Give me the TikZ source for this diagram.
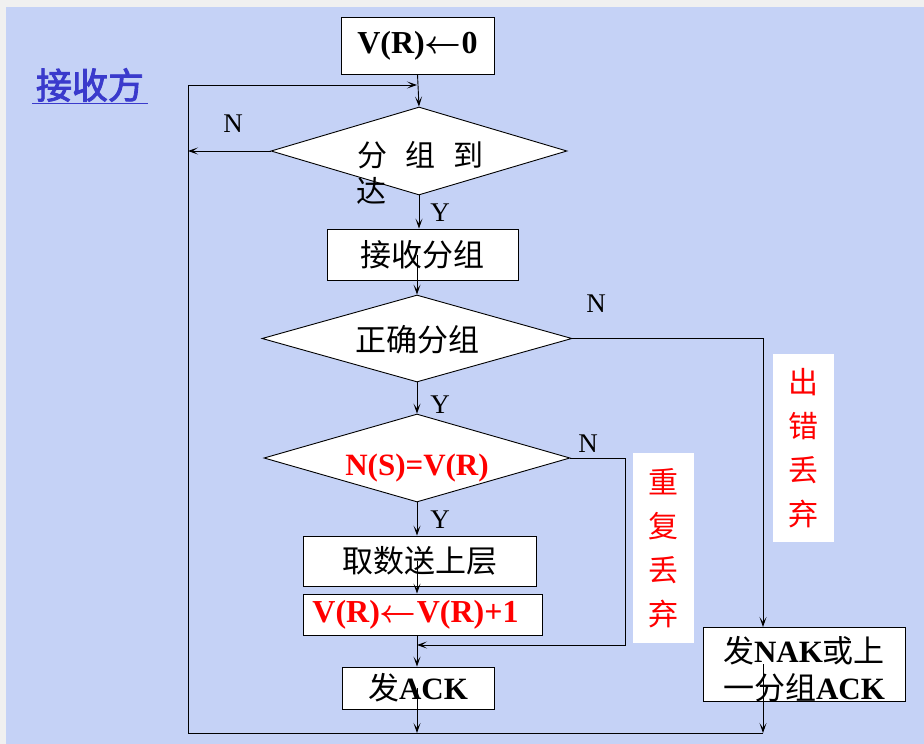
\RequirePackage{fix-cm}
\documentclass[tikz,border=0pt]{standalone}
\usepackage{bm}
\usepackage{fontspec}
\setmainfont{Liberation Serif}
\newfontfamily\cjk{Noto Sans CJK SC}
\newfontfamily\cjkbold{Noto Sans CJK SC}[FakeBold=2.5]
\usetikzlibrary{shapes.geometric,arrows.meta,calc}
\definecolor{bgc}{RGB}{197,210,246}
\definecolor{titlec}{RGB}{58,58,204}
\definecolor{redc}{RGB}{255,0,0}
\newcommand\zh[1]{{\cjk #1}}
\newcommand\setfs[2]{\fontsize{#1}{#2}\selectfont}
\newcommand\larr{$\bm{\leftarrow}$}
\begin{document}
\begin{tikzpicture}[x=1pt,y=-1pt,
  box/.style={draw, fill=white, inner sep=0pt, line width=0.9pt},
  dia/.style={draw, fill=white, diamond, inner sep=0pt, line width=0.9pt},
  redlab/.style={fill=white, inner sep=0pt, align=center, text=redc, font=\setfs{30}{44}\cjk},
  yn/.style={font=\setfs{27}{30}},
  conn/.style={line width=0.9pt},
  arr/.style={line width=0.9pt, -{Stealth[length=10pt,width=7pt,inset=5pt]}},
]
\useasboundingbox (0,0) rectangle (924,744);
\fill[gray!12] (0,0) rectangle (924,744);
\fill[bgc] (6,7) rectangle (924,744);

% title
\node[text=titlec, font=\setfs{36}{40}\cjkbold, inner sep=0pt] (title) at (90,85) {接收方};
\draw[titlec, line width=1pt] (32,103) -- (148,103);

% nodes
\node[box, minimum width=153, minimum height=57, font=\setfs{32}{36}\bfseries] (init) at (417.5,45.5) {V(R)\larr0};
\node[dia, minimum width=296, minimum height=88] (d1) at (419,151) {};
\node[inner sep=0pt, font=\setfs{30}{34}\cjk] (d1t) at (420,155) {分\hspace{18pt}组\hspace{18pt}到};
\node[inner sep=0pt, font=\setfs{30}{34}\cjk] (d1u) at (371,191) {达};
\node[box, minimum width=191, minimum height=51, font=\setfs{31}{34}\cjk] (b1) at (422.5,254.5) {接收分组};
\node[dia, minimum width=310, minimum height=87] (d2) at (417,338.5) {};
\node[inner sep=0pt, font=\setfs{31}{34}\cjk] (d2t) at (417,340) {正确分组};
\node[dia, minimum width=306, minimum height=88] (d3) at (417,458) {};
\node[inner sep=0pt, text=redc, font=\setfs{31}{34}\bfseries] (d3t) at (417,468) {N(S)=V(R)};
\node[box, minimum width=233, minimum height=50, font=\setfs{31}{34}\cjk] (b2) at (419.5,561) {取数送上层};
\node[box, minimum width=239, minimum height=41, text=redc, font=\setfs{32}{34}\bfseries] (b3) at (422.5,614.5) {V(R)\larr V(R)+1\hspace*{14pt}};
\node[box, minimum width=152, minimum height=42, font=\setfs{31}{34}] (b4) at (418,688) {\zh{发}\textbf{ACK}};
\node[box, minimum width=202, minimum height=74] (b5) at (804,664) {};
\node[inner sep=0pt, align=center, font=\setfs{31}{37}] (b5t) at (804,669) {\zh{发}\textbf{NAK}\zh{或上}\\\zh{一分组}\textbf{ACK}};
\node[redlab, minimum width=61, minimum height=190] (r1) at (663.5,548) {重\\复\\丢\\弃};
\node[redlab, minimum width=61, minimum height=188] (r2) at (803.5,448) {出\\错\\丢\\弃};

% labels
\node[yn] (n1) at (233,124) {N};
\node[yn] (y1) at (440,213) {Y};
\node[yn] (n2) at (596,304) {N};
\node[yn] (y2) at (440,405) {Y};
\node[yn] (n3) at (588,444) {N};
\node[yn] (y3) at (440,520) {Y};

% coordinates
\coordinate (loopBL) at (188,733);
\coordinate (loopTL) at (188,85);
\coordinate (loopTR) at (417,85);
\coordinate (nOut) at (188,151);
\coordinate (e2) at (763,338.5);
\coordinate (e2b) at (763,627);
\coordinate (e2c) at (763,664);
\coordinate (e2d) at (763,733);
\coordinate (r3a) at (625,458);
\coordinate (r3b) at (625,645);
\coordinate (merge) at (417,645);
\coordinate (bot) at (417,733);

% connectors
\draw[arr] (init.south) -- (d1.north);
\draw[arr] (loopBL) -- (loopTL) -- (loopTR);
\draw[arr] (d1.west) -- (nOut);
\draw[arr] (d1.south) -- (d1.south |- b1.north);
\draw[arr] (b1.center -| d2.north) -- (d2.north);
\draw[arr] (d2.south) -- (d3.north);
\draw[arr] (d3.south) -- (d3.south |- b2.north);
\draw[arr] (b2.center -| d3.south) -- (d3.south |- b3.north);
\draw[arr] (d3.south |- b3.south) -- (d3.south |- b4.north);
\draw[arr] (d3.east) -- (r3a) -- (r3b) -- (merge);
\draw[arr] (d2.east) -- (e2) -- (e2b);
\draw[arr] (b4.center -| d3.south) -- (bot);
\draw[arr] (e2c) -- (e2d);
\draw[conn] (loopBL) -- (e2d);
\end{tikzpicture}
\end{document}
